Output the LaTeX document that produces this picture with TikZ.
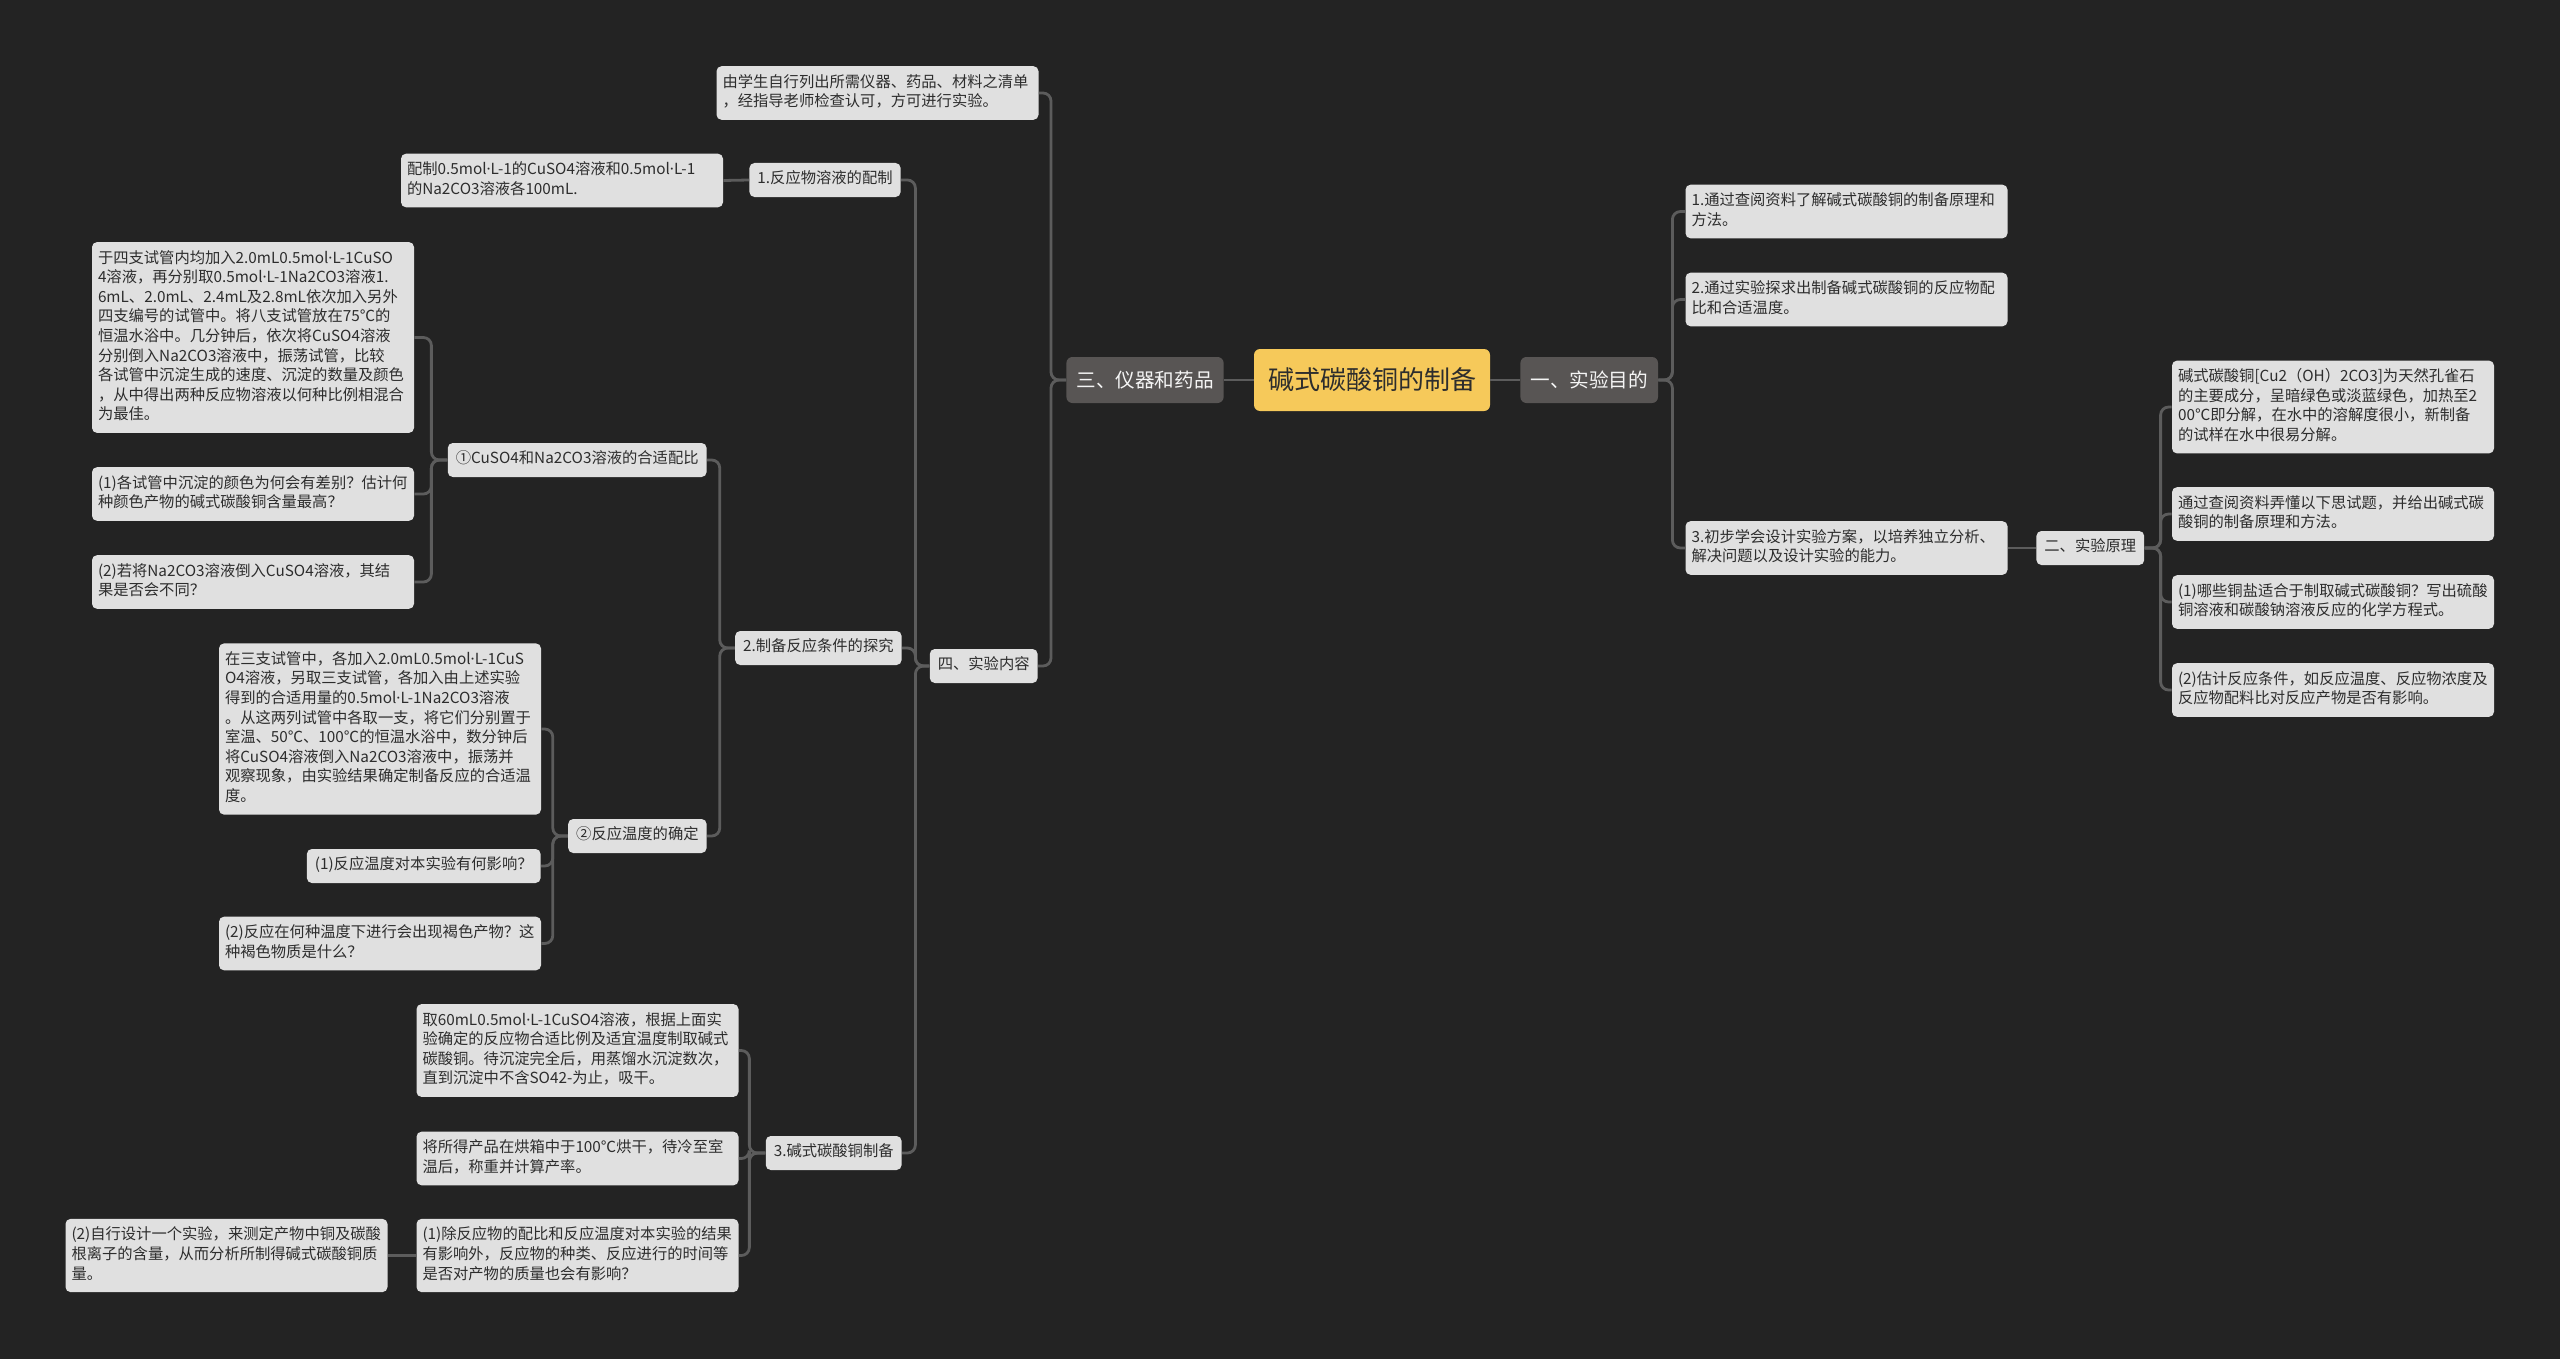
\documentclass[tikz,border=0pt]{standalone}
\usepackage{fontspec}
\setmainfont{Noto Sans CJK SC}
\newfontfamily\latinfont{Noto Sans}
\newcommand\mdot{{\latinfont ·}}
\usepackage{tikz}
\usepackage{xcolor}
\definecolor{bgdark}{RGB}{35,35,35}
\definecolor{leafgray}{RGB}{224,224,224}
\definecolor{inkdark}{RGB}{45,45,45}
\definecolor{linegray}{RGB}{92,92,92}
\definecolor{rootyellow}{RGB}{246,201,90}
\definecolor{topicgray}{RGB}{88,85,84}
\definecolor{topictext}{RGB}{245,245,245}
\tikzset{
  mleaf/.style={fill=leafgray,rounded corners=2.5pt,text=inkdark,align=left,text width=155pt,
    inner xsep=3pt,inner ysep=3.6pt,font=\fontsize{7.65}{9.8}\selectfont,
    execute at begin node={\exhyphenpenalty=10000 \hyphenpenalty=10000 \strut},execute at end node=\strut},
  msub/.style={fill=leafgray,rounded corners=2.5pt,text=inkdark,inner xsep=4pt,inner ysep=3.6pt,
    font=\fontsize{7.65}{9.8}\selectfont,execute at begin node=\strut},
  mtopic/.style={fill=topicgray,rounded corners=3pt,text=topictext,inner xsep=5pt,minimum height=23pt,
    font=\fontsize{9.8}{12}\selectfont},
  mroot/.style={fill=rootyellow,rounded corners=3pt,text=inkdark,inner xsep=7pt,minimum height=31pt,
    font=\fontsize{13}{16}\selectfont},
  link/.style={draw=linegray,line width=1.4pt,rounded corners=4pt}
}
\begin{document}
\begin{tikzpicture}[x=0.5pt,y=-0.5pt]
  \fill[bgdark] (0,0) rectangle (2560,1359);

  \node[mroot] (root) at (1372,380) {碱式碳酸铜的制备};
  \node[mtopic,anchor=east] (yiqi) at (1224,380) {三、仪器和药品};
  \node[mtopic,anchor=west] (mudi) at (1520,380) {一、实验目的};

  \node[mleaf] (qingdan) at (877.5,93) {由学生自行列出所需仪器、药品、材料之清单\\，经指导老师检查认可，方可进行实验。};
  \node[msub,anchor=east] (neirong) at (1038,666) {四、实验内容};

  \node[msub,anchor=east] (peizhi) at (901,180) {1.反应物溶液的配制};
  \node[mleaf] (peizhiT) at (562,180.5) {配制0.5mol\mdot L-1的CuSO4溶液和0.5mol\mdot L-1\\的Na2CO3溶液各100mL.};

  \node[msub,anchor=east] (tanjiu) at (902,648) {2.制备反应条件的探究};
  \node[msub,anchor=east] (peibi) at (707,460) {①CuSO4和Na2CO3溶液的合适配比};
  \node[mleaf] (peibiA) at (253,337.5) {于四支试管内均加入2.0mL0.5mol\mdot L-1CuSO\\4溶液，再分别取0.5mol\mdot L-1Na2CO3溶液1.\\6mL、2.0mL、2.4mL及2.8mL依次加入另外\\四支编号的试管中。将八支试管放在75℃的\\恒温水浴中。几分钟后，依次将CuSO4溶液\\分别倒入Na2CO3溶液中，振荡试管，比较\\各试管中沉淀生成的速度、沉淀的数量及颜色\\，从中得出两种反应物溶液以何种比例相混合\\为最佳。};
  \node[mleaf] (peibiB) at (253,494) {(1)各试管中沉淀的颜色为何会有差别？估计何\\种颜色产物的碱式碳酸铜含量最高？};
  \node[mleaf] (peibiC) at (253,582) {(2)若将Na2CO3溶液倒入CuSO4溶液，其结\\果是否会不同？};
  \node[msub,anchor=east] (wendu) at (707,836) {②反应温度的确定};
  \node[mleaf] (wenduA) at (380,729) {在三支试管中，各加入2.0mL0.5mol\mdot L-1CuS\\O4溶液，另取三支试管，各加入由上述实验\\得到的合适用量的0.5mol\mdot L-1Na2CO3溶液\\。从这两列试管中各取一支，将它们分别置于\\室温、50℃、100℃的恒温水浴中，数分钟后\\将CuSO4溶液倒入Na2CO3溶液中，振荡并\\观察现象，由实验结果确定制备反应的合适温\\度。};
  \node[msub,anchor=east] (wenduB) at (541,866) {(1)反应温度对本实验有何影响？};
  \node[mleaf] (wenduC) at (380,943.5) {(2)反应在何种温度下进行会出现褐色产物？这\\种褐色物质是什么？};

  \node[msub,anchor=east] (zhibei) at (902,1153) {3.碱式碳酸铜制备};
  \node[mleaf] (zhibeiA) at (577.5,1050.5) {取60mL0.5mol\mdot L-1CuSO4溶液，根据上面实\\验确定的反应物合适比例及适宜温度制取碱式\\碳酸铜。待沉淀完全后，用蒸馏水沉淀数次，\\直到沉淀中不含SO42-为止，吸干。};
  \node[mleaf] (zhibeiB) at (577.5,1158.5) {将所得产品在烘箱中于100℃烘干，待冷至室\\温后，称重并计算产率。};
  \node[mleaf] (zhibeiC) at (577.5,1255.5) {(1)除反应物的配比和反应温度对本实验的结果\\有影响外，反应物的种类、反应进行的时间等\\是否对产物的质量也会有影响？};
  \node[mleaf] (zhibeiD) at (226.5,1255.5) {(2)自行设计一个实验，来测定产物中铜及碳酸\\根离子的含量，从而分析所制得碱式碳酸铜质\\量。};

  \node[mleaf] (mudiA) at (1846.5,211.5) {1.通过查阅资料了解碱式碳酸铜的制备原理和\\方法。};
  \node[mleaf] (mudiB) at (1846.5,299.5) {2.通过实验探求出制备碱式碳酸铜的反应物配\\比和合适温度。};
  \node[mleaf] (mudiC) at (1846.5,548) {3.初步学会设计实验方案，以培养独立分析、\\解决问题以及设计实验的能力。};
  \node[msub,anchor=west] (yuanli) at (2036,548) {二、实验原理};
  \node[mleaf] (yuanliA) at (2333,407) {碱式碳酸铜[Cu2（OH）2CO3]为天然孔雀石\\的主要成分，呈暗绿色或淡蓝绿色，加热至2\\00℃即分解，在水中的溶解度很小，新制备\\的试样在水中很易分解。};
  \node[mleaf] (yuanliB) at (2333,514) {通过查阅资料弄懂以下思试题，并给出碱式碳\\酸铜的制备原理和方法。};
  \node[mleaf] (yuanliC) at (2333,602) {(1)哪些铜盐适合于制取碱式碳酸铜？写出硫酸\\铜溶液和碳酸钠溶液反应的化学方程式。};
  \node[mleaf] (yuanliD) at (2333,690) {(2)估计反应条件，如反应温度、反应物浓度及\\反应物配料比对反应产物是否有影响。};

  \draw[link] (root.west) -- (yiqi.east);
  \draw[link] (root.east) -- (mudi.west);
  \draw[link] (yiqi.west) -- ++(-15,0) |- (qingdan.east);
  \draw[link] (yiqi.west) -- ++(-15,0) |- (neirong.east);
  \draw[link] (neirong.west) -- ++(-14,0) |- (peizhi.east);
  \draw[link] (neirong.west) -- ++(-14,0) |- (tanjiu.east);
  \draw[link] (neirong.west) -- ++(-14,0) |- (zhibei.east);
  \draw[link] (peizhi.west) -- (peizhiT.east);
  \draw[link] (tanjiu.west) -- ++(-15,0) |- (peibi.east);
  \draw[link] (tanjiu.west) -- ++(-15,0) |- (wendu.east);
  \draw[link] (peibi.west) -- ++(-16,0) |- (peibiA.east);
  \draw[link] (peibi.west) -- ++(-16,0) |- (peibiB.east);
  \draw[link] (peibi.west) -- ++(-16,0) |- (peibiC.east);
  \draw[link] (wendu.west) -- ++(-15,0) |- (wenduA.east);
  \draw[link] (wendu.west) -- ++(-15,0) |- (wenduB.east);
  \draw[link] (wendu.west) -- ++(-15,0) |- (wenduC.east);
  \draw[link] (zhibei.west) -- ++(-16,0) |- (zhibeiA.east);
  \draw[link] (zhibei.west) -- ++(-16,0) |- (zhibeiB.east);
  \draw[link] (zhibei.west) -- ++(-16,0) |- (zhibeiC.east);
  \draw[link] (zhibeiC.west) -- (zhibeiD.east);
  \draw[link] (mudi.east) -- ++(14,0) |- (mudiA.west);
  \draw[link] (mudi.east) -- ++(14,0) |- (mudiB.west);
  \draw[link] (mudi.east) -- ++(14,0) |- (mudiC.west);
  \draw[link] (mudiC.east) -- (yuanli.west);
  \draw[link] (yuanli.east) -- ++(16,0) |- (yuanliA.west);
  \draw[link] (yuanli.east) -- ++(16,0) |- (yuanliB.west);
  \draw[link] (yuanli.east) -- ++(16,0) |- (yuanliC.west);
  \draw[link] (yuanli.east) -- ++(16,0) |- (yuanliD.west);
\end{tikzpicture}
\end{document}
